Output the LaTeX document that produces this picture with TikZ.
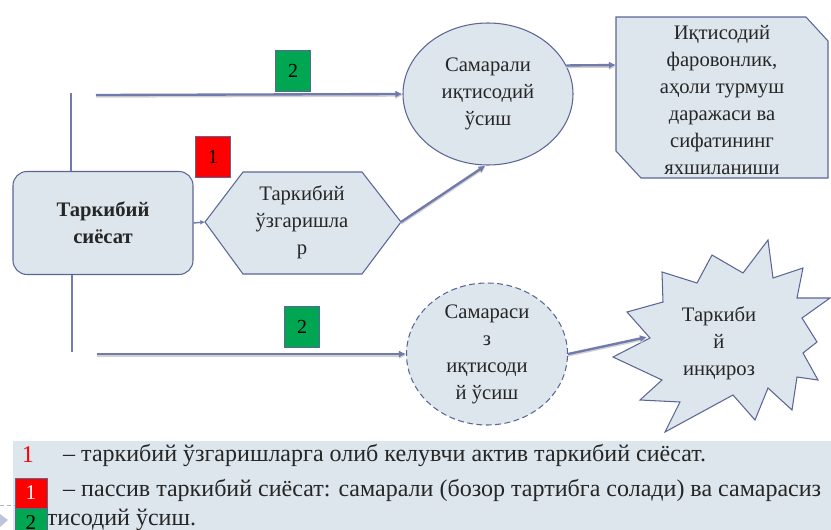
\documentclass[tikz,border=0pt]{standalone}
\usepackage{fontspec}
\setmainfont{Liberation Serif}
\usetikzlibrary{shapes.geometric,arrows.meta}
\definecolor{boxfill}{RGB}{221,230,237}
\definecolor{edgec}{RGB}{92,102,150}
\definecolor{flowc}{RGB}{112,122,172}
\definecolor{markgreen}{RGB}{0,166,81}
\definecolor{markred}{RGB}{255,0,0}
\begin{document}
\begin{tikzpicture}[x=0.03cm,y=-0.03cm,
	txt/.style={font=\fontsize{17.6}{23}\selectfont, align=center, text=black!85, inner sep=0pt},
	legtxt/.style={font=\fontsize{20.5}{24}\selectfont, text=black!85, inner sep=0pt},
	panel/.style={draw=edgec, fill=boxfill, line width=0.9pt},
	arrowline/.style={draw=flowc, line width=2pt, -{Latex[length=6pt,width=6pt]},
		preaction={draw=black!18, line width=2pt, transform canvas={yshift=-1.3pt}}},
	stemline/.style={draw=flowc, line width=1.5pt},
	numbox/.style={draw=edgec, line width=0.6pt, minimum width=1.05cm, minimum height=1.23cm, inner sep=0pt, font=\fontsize{17}{20}\selectfont},
	keybox/.style={draw=edgec, line width=0.5pt, minimum width=0.96cm, minimum height=0.9cm, inner sep=0pt, font=\fontsize{18}{20}\selectfont}]
	\useasboundingbox (0, 0) rectangle (831, 530);
	% main blocks
	\node[panel, rounded corners=12pt, minimum width=5.4cm, minimum height=3.09cm, align=center, text=black!85,
		font=\fontsize{17.6}{23}\selectfont\bfseries] (policy) at (103, 223) {Таркибий\\сиёсат};
	\coordinate (hexL) at (205, 222);
	\coordinate (hexR) at (401, 222);
	\draw[panel] (hexL) -- (243, 172) -- (362, 172) -- (hexR) -- (362, 274) -- (243, 274) -- cycle;
	\node[txt] (change) at (302, 222) {Таркибий\\ўзгаришла\\р};
	\node[panel, ellipse, minimum width=5.1cm, minimum height=4.26cm, txt] (growth) at (488, 94) {Самарали\\иқтисодий\\ўсиш};
	\draw[panel] (616, 17) -- (806, 17) -- (828, 41) -- (828, 178) -- (641, 178) -- (616, 151) -- cycle;
	\node[txt] (welfare) at (722, 100) {Иқтисодий\\фаровонлик,\\аҳоли турмуш\\даражаси ва\\сифатининг\\яхшиланиши};
	\node[panel, ellipse, dash pattern=on 5pt off 3pt, minimum width=4.83cm, minimum height=4.26cm, txt] (nogrowth) at (487, 354) {Самараси\\з\\иқтисоди\\й ўсиш};
	% starburst
	\draw[panel] (768, 240) -- (773, 278) -- (803, 268) -- (797, 298) -- (830, 298) -- (802, 318) -- (817, 342)
		-- (803, 353) -- (818, 380) -- (797, 377) -- (792, 410) -- (768, 388) -- (755, 420) -- (733, 395)
		-- (665, 432) -- (680, 402) -- (640, 400) -- (662, 380) -- (613, 357) -- (650, 338) -- (627, 312)
		-- (663, 302) -- (662, 272) -- (697, 283) -- (712, 255) -- (743, 273) -- cycle;
	\node[txt] (crisis) at (719, 343) {Таркиби\\й\\инқироз};
	% connectors
	\coordinate (upend) at (71, 93);
	\coordinate (lowend) at (72, 352);
	\coordinate (topstart) at (96, 95);
	\coordinate (lowstart) at (97, 354);
	\coordinate (wIn) at (616, 65);
	\coordinate (starIn) at (647, 337);
	\draw[stemline] (upend) -- (upend |- policy.north);
	\draw[stemline] (lowend |- policy.south) -- (lowend);
	\draw[arrowline] (topstart) -- (growth.west);
	\draw[draw=flowc, line width=1.2pt, -{Latex[length=4pt,width=4pt]}] (policy.east) -- (hexL);
	\draw[arrowline] (hexR) -- (growth.268);
	\draw[arrowline] (growth.20) -- (wIn);
	\draw[arrowline] (lowstart) -- (nogrowth.west);
	\draw[arrowline] (nogrowth.east) -- (starIn);
	% numbers
	\node[numbox, fill=markgreen] (g1) at (293, 71) {2};
	\node[numbox, fill=markred] (r1) at (213, 157) {1};
	\node[numbox, fill=markgreen] (g2) at (302, 327) {2};
	% legend
	\fill[boxfill] (13, 441) rectangle (831, 530);
	\draw[black!30, dashed] (0, 505) -- (15, 505);
	\fill[flowc!45] (0, 514) -- (8, 520) -- (0, 527) -- cycle;
	\node[legtxt, text=markred] (k1) at (28, 455) {1};
	\node[legtxt, anchor=west] (l1) at (63, 455) {– таркибий ўзгаришларга олиб келувчи актив таркибий сиёсат.};
	\node[legtxt, anchor=west] (l2) at (63, 490) {– пассив таркибий сиёсат: самарали (бозор тартибга солади) ва самарасиз};
	\node[legtxt, anchor=west] (l3) at (22, 520) {иқтисодий ўсиш.};
	\node[keybox, fill=markred, text=white] (k2) at (31, 493) {1};
	\node[keybox, fill=markgreen] (k3) at (31, 523) {2};
\end{tikzpicture}
\end{document}
